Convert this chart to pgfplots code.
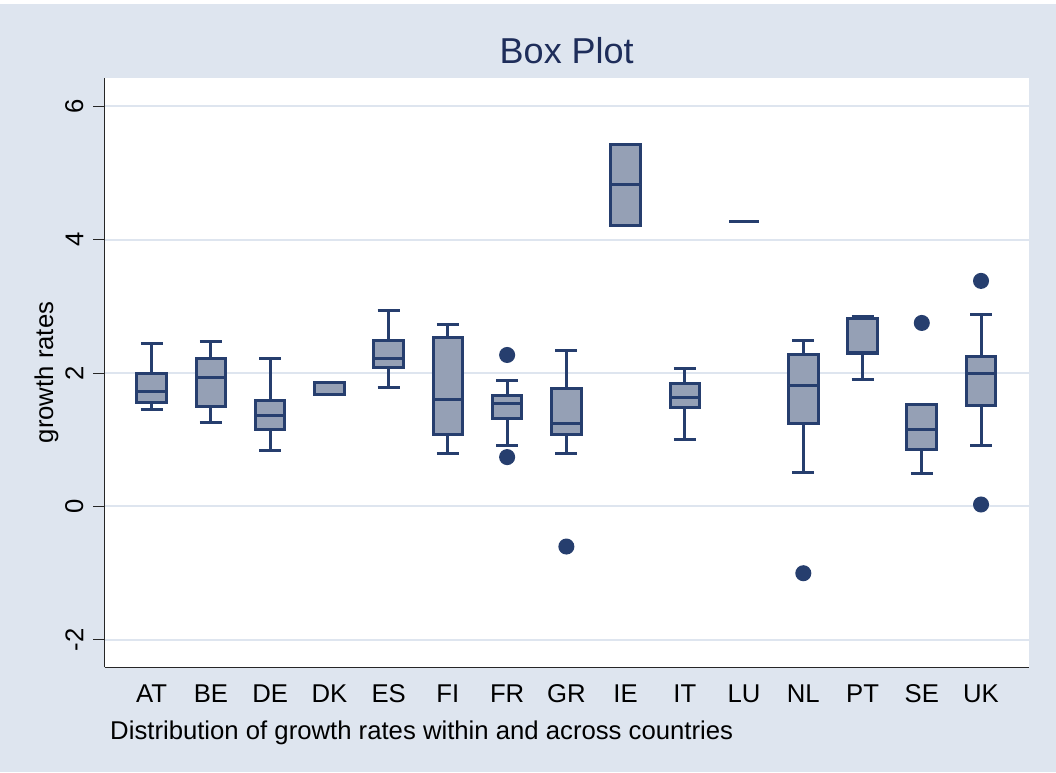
\documentclass[border=0pt]{standalone}
\usepackage{pgfplots}
\pgfplotsset{compat=1.18}
\usepgfplotslibrary{statistics}
\usepackage{fontspec}
\setmainfont{Liberation Sans}
\definecolor{bgc}{RGB}{222,229,239}
\definecolor{gridc}{RGB}{222,229,239}
\definecolor{navyl}{RGB}{38,62,110}
\definecolor{boxfill}{RGB}{149,160,181}
\definecolor{titlec}{RGB}{30,45,90}
\pgfplotsset{
  bxs/.style={draw=navyl, line width=3pt, fill=boxfill, solid,
    mark=*, mark size=6.5pt, mark options={solid, fill=navyl, draw=none},
    boxplot/draw direction=y,
    boxplot/box extend=0.5, boxplot/whisker extend=0.37},
}
\begin{document}
\begin{tikzpicture}
\fill[bgc] (0,0) rectangle (1056pt,768pt);
\begin{axis}[
  at={(104.5pt,105pt)}, anchor=south west,
  width=924.5pt, height=589pt, scale only axis,
  xmin=-0.797, xmax=14.81, ymin=-2.405, ymax=6.42,
  axis background/.style={fill=white},
  axis x line*=bottom, axis y line*=left,
  axis line style={line width=1pt, black!85, -},
  xtick={0,...,14},
  xticklabels={AT,BE,DE,DK,ES,FI,FR,GR,IE,IT,LU,NL,PT,SE,UK},
  xtick style={draw=none},
  ytick={-2,0,2,4,6},
  yticklabels={-2,0,2,4,6},
  ytick style={line width=1pt, black!85},
  tick align=outside,
  major tick length=11pt,
  ymajorgrids,
  grid style={line width=2pt, gridc},
  ticklabel style={font=\fontsize{25.7}{30}\selectfont, black},
  xticklabel style={anchor=north, inner sep=0pt, text height=18.4pt, text depth=0pt},
  xticklabel shift=6pt,
  yticklabel style={rotate=90, anchor=south, inner sep=0pt},
  yticklabel shift=10pt,
  ylabel={growth rates},
  ylabel style={at={(axis description cs:-0.0557,0.5)}, rotate=0, anchor=base, inner sep=0pt, font=\fontsize{25.7}{30}\selectfont},
  xlabel={Distribution of growth rates within and across countries},
  xlabel style={at={(axis description cs:0.006,0)}, anchor=north west, inner sep=0pt, yshift=-53.4pt, font=\fontsize{25.7}{30}\selectfont},
  title={Box Plot},
  title style={at={(axis description cs:0.5,1)}, anchor=base, inner sep=0pt, yshift=8pt, font=\fontsize{36}{40}\selectfont, text=titlec},
  clip=false,
]
\addplot[bxs, boxplot prepared={draw position=0, lower whisker=1.45, lower quartile=1.56, median=1.73, upper quartile=1.99, upper whisker=2.44}] coordinates {};
\addplot[bxs, boxplot prepared={draw position=1, lower whisker=1.26, lower quartile=1.50, median=1.93, upper quartile=2.22, upper whisker=2.47}] coordinates {};
\addplot[bxs, boxplot prepared={draw position=2, lower whisker=0.84, lower quartile=1.15, median=1.37, upper quartile=1.585, upper whisker=2.22}] coordinates {};
\addplot[bxs, boxplot prepared={draw position=3, lower whisker=1.685, lower quartile=1.685, median=1.86, upper quartile=1.86, upper whisker=1.86}] coordinates {};
\addplot[bxs, boxplot prepared={draw position=4, lower whisker=1.79, lower quartile=2.08, median=2.21, upper quartile=2.48, upper whisker=2.94}] coordinates {};
\addplot[bxs, boxplot prepared={draw position=5, lower whisker=0.80, lower quartile=1.08, median=1.60, upper quartile=2.535, upper whisker=2.72}] coordinates {};
\addplot[bxs, boxplot prepared={draw position=6, lower whisker=0.92, lower quartile=1.32, median=1.55, upper quartile=1.67, upper whisker=1.89}] coordinates {(6,2.27) (6,0.74)};
\addplot[bxs, boxplot prepared={draw position=7, lower whisker=0.80, lower quartile=1.08, median=1.25, upper quartile=1.77, upper whisker=2.33}] coordinates {(7,-0.60)};
\addplot[bxs, boxplot prepared={draw position=8, lower whisker=4.21, lower quartile=4.21, median=4.82, upper quartile=5.43, upper whisker=5.43}] coordinates {};
\addplot[bxs, boxplot prepared={draw position=9, lower whisker=1.00, lower quartile=1.49, median=1.63, upper quartile=1.85, upper whisker=2.06}] coordinates {};
\addplot[bxs, boxplot prepared={draw position=10, lower whisker=4.27, lower quartile=4.27, median=4.27, upper quartile=4.27, upper whisker=4.27}] coordinates {};
\addplot[bxs, boxplot prepared={draw position=11, lower whisker=0.51, lower quartile=1.25, median=1.82, upper quartile=2.28, upper whisker=2.49}] coordinates {(11,-1.00)};
\addplot[bxs, boxplot prepared={draw position=12, lower whisker=1.91, lower quartile=2.295, median=2.31, upper quartile=2.81, upper whisker=2.85}] coordinates {};
\addplot[bxs, boxplot prepared={draw position=13, lower whisker=0.50, lower quartile=0.85, median=1.16, upper quartile=1.535, upper whisker=1.535}] coordinates {(13,2.75)};
\addplot[bxs, boxplot prepared={draw position=14, lower whisker=0.91, lower quartile=1.52, median=2.00, upper quartile=2.24, upper whisker=2.88}] coordinates {(14,3.38) (14,0.03)};
\end{axis}
\pgfresetboundingbox
\useasboundingbox (0,0) rectangle (1056pt,772pt);
\end{tikzpicture}
\end{document}
